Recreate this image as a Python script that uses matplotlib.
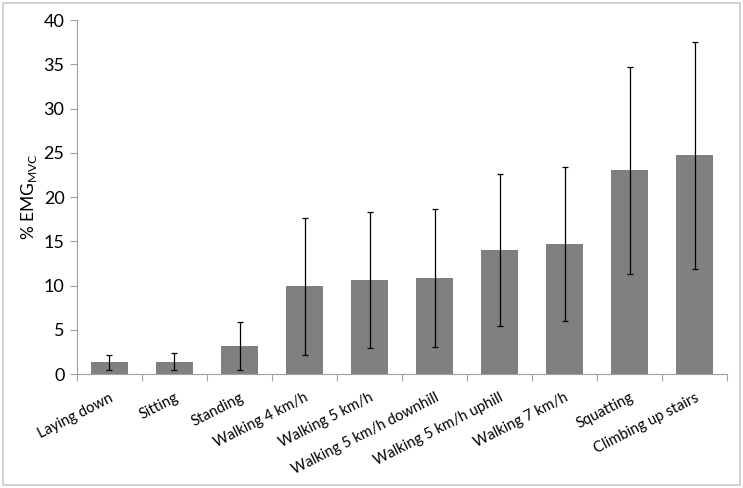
import matplotlib.pyplot as plt
from matplotlib.patches import Rectangle
import numpy as np

plt.rcParams['font.family'] = ['Lato', 'DejaVu Sans']

categories = ['Laying down', 'Sitting', 'Standing', 'Walking 4 km/h', 'Walking 5 km/h',
              'Walking 5 km/h downhill', 'Walking 5 km/h uphill', 'Walking 7 km/h',
              'Squatting', 'Climbing up stairs']
means = [1.3, 1.4, 3.2, 9.9, 10.6, 10.8, 14.0, 14.7, 23.0, 24.7]
sds = [0.9, 0.95, 2.7, 7.7, 7.7, 7.8, 8.6, 8.7, 11.7, 12.8]

fig = plt.figure(figsize=(7.43, 4.88), dpi=100)
ax = fig.add_axes([0.1036, 0.2336, 0.875, 0.7254])

x = np.arange(len(categories))
ax.bar(x, means, width=0.58, color='#808080', zorder=2)
ax.errorbar(x, means, yerr=sds, fmt='none', ecolor='black', elinewidth=0.9,
            capsize=2.5, capthick=0.9, zorder=3)

ax.set_xlim(-0.5, len(categories) - 0.5)
ax.set_ylim(0, 40)
ax.set_yticks(np.arange(0, 41, 5))
ax.tick_params(axis='y', labelsize=13, length=5, color='#a0a0a0', width=0.8, pad=4)

# category labels at bar centres, tick marks at category boundaries
ax.set_xticks(x)
ax.set_xticklabels(categories, rotation=27, ha='right', rotation_mode='anchor', fontsize=10.6)
ax.tick_params(axis='x', length=0, pad=12)
ax.set_xticks(np.arange(-0.5, len(categories), 1), minor=True)
ax.tick_params(axis='x', which='minor', length=5, color='#a0a0a0', width=0.8)

for side in ['top', 'right']:
    ax.spines[side].set_visible(False)
for side in ['left', 'bottom']:
    ax.spines[side].set_color('#a0a0a0')
    ax.spines[side].set_linewidth(0.8)

ax.set_ylabel('% EMG$_{\\mathregular{MVC}}$', fontsize=12.5, labelpad=3)

fig.patches.append(Rectangle((0.004, 0.006), 0.992, 0.988, transform=fig.transFigure,
                             fill=False, edgecolor='#c8c8c8', linewidth=1.2))

fig.savefig('out.png', dpi=100)
